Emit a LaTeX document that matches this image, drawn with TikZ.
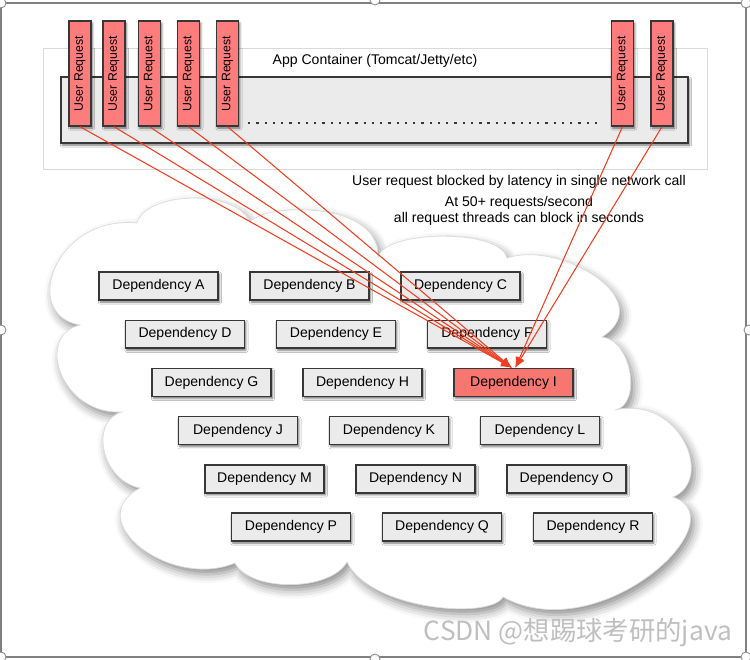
\documentclass[tikz,border=0pt]{standalone}
\usepackage{graphicx}
\usepackage{fontspec}
\setmainfont{Liberation Sans}
\newfontfamily\cjkfont{Noto Sans CJK SC}
\usepackage{tikz}
\usetikzlibrary{arrows.meta}
\usetikzlibrary{shadows.blur}
\tikzset{boxshadow/.style = {blur shadow={shadow xshift=0.8pt, shadow yshift=-1.2pt,
                                          shadow blur radius=1.2pt, shadow opacity=55}}}
\tikzset{dep/.style = {draw=medge, line width=0.8pt, fill=mbox, boxshadow, inner sep=0,
                       minimum width=2.38cm, minimum height=0.56cm, font=\fontsize{8}{9.6}\selectfont}}
\tikzset{req/.style = {dep, fill=mreq, minimum width=0.44cm, minimum height=2.1cm,
                       font=\fontsize{7}{8}\selectfont}}
\tikzset{link/.style = {mline, line width=0.6pt, -{Latex[length=6pt, width=5pt]}}}
\tikzset{cloud/.style = {draw=black!14, line width=0.4pt, fill=white,
                         blur shadow={shadow xshift=2pt, shadow yshift=-3pt,
                                      shadow blur radius=5pt, shadow opacity=45}}}
\tikzset{handle/.style = {draw=black!45, fill=white, line width=0.5pt}}
\definecolor{mreq}{RGB}{255,124,124}
\definecolor{mhit}{RGB}{248,118,112}
\definecolor{mbox}{RGB}{235,235,235}
\definecolor{medge}{RGB}{55,55,55}
\definecolor{mline}{RGB}{240,62,32}
\definecolor{mframe}{RGB}{218,218,218}

\begin{document}
\begin{tikzpicture}[x=0.02cm, y=-0.02cm]
  \useasboundingbox (0, 0) rectangle (750, 659);
  \draw [black!50, line width=0.7pt] (1, 3) rectangle (746, 657);
  \foreach \x/\y in {1/3, 375/0, 746/3, 1/330, 749/330, 1/657, 746/657, 375/659}
    \filldraw [handle] (\x, \y) circle (5);

  \draw [mframe, fill=white] (43, 48) rectangle (707, 169);
  \node [font=\fontsize{8}{9.6}\selectfont] (app) at (375, 61) {App Container (Tomcat/Jetty/etc)};
  \draw [medge, line width=0.8pt, fill=mbox, boxshadow] (61, 77) rectangle (688, 143);
  \draw [medge, line width=1.3pt, dash pattern=on 1.3pt off 3.4pt] (248, 123) -- (598, 123);

  \foreach \x [count=\i] in {80, 114, 149.5, 188.5, 227.5, 622.5, 662}
    \node [req] (u\i) at (\x, 73.5) {\rotatebox{90}{User Request}};

  \node [font=\fontsize{8}{9.6}\selectfont] (note) at (519, 182)
    {User request blocked by latency in single network call};
  \node [font=\fontsize{8}{9}\selectfont, align=center] (rate) at (519, 211)
    {At 50+ requests/second\\all request threads can block in seconds};

  \filldraw [cloud] (137, 223) .. controls (145, 192) and (235, 188) .. (250, 222)
    .. controls (265, 203) and (380, 200) .. (378, 257)
    .. controls (385, 230) and (500, 228) .. (507, 258)
    .. controls (560, 240) and (660, 300) .. (602, 337)
    .. controls (632, 340) and (642, 405) .. (615, 410)
    .. controls (680, 395) and (715, 480) .. (673, 497)
    .. controls (740, 520) and (600, 650) .. (503, 597)
    .. controls (490, 620) and (370, 610) .. (347, 562)
    .. controls (330, 592) and (250, 592) .. (235, 563)
    .. controls (170, 590) and (80, 520) .. (140, 488)
    .. controls (100, 480) and (90, 420) .. (122, 412)
    .. controls (60, 415) and (35, 335) .. (80, 325)
    .. controls (20, 315) and (55, 215) .. (137, 223) -- cycle;

  \foreach \name [count=\i from 0] in {A,...,R} {
    \pgfmathsetmacro\row{int(\i/3)}
    \pgfmathsetmacro\col{mod(\i,3)}
    \ifnum\i=8 \def\depfill{mhit}\else\def\depfill{mbox}\fi
    \node [dep, fill=\depfill] (dep\name) at ({158.5 + 26.5*\row + 151*\col}, {286 + 48.2*\row})
      {Dependency \name};
  }

  \foreach \i in {1,...,5}
    \draw [link] (u\i.south) -- ([xshift=-1pt]depI.north);
  \foreach \i in {6,7}
    \draw [link] (u\i.south) -- ([xshift=1pt]depI.north);

  \node [text=black!25, font=\cjkfont\fontsize{15}{18}\selectfont] (mark) at (578, 633)
    {CSDN @想踢球考研的java};
\end{tikzpicture}
\end{document}
